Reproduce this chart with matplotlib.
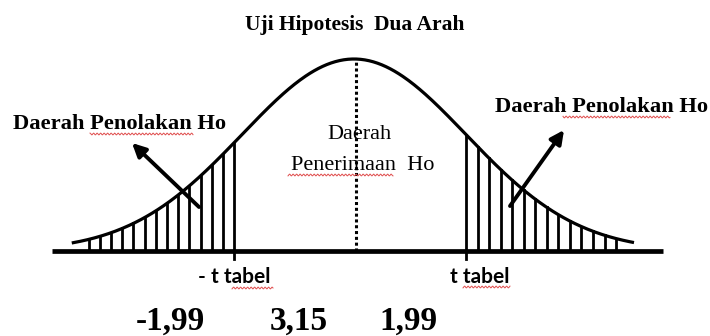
import numpy as np
import matplotlib
matplotlib.use("Agg")
import matplotlib.pyplot as plt

# schematic values (z units: 1 = one standard deviation of the drawn curve)
crit_left = -1.07      # - t tabel
crit_right = 1.00      # t tabel
tail_left = -2.52
tail_right = 2.50
n_hatch = 14           # vertical hatch lines on each side incl. the critical line

value_labels = ["-1,99", "3,15", "1,99"]
value_xpos = [170, 299, 408]   # pixel centres of the numbers

W, H = 710, 336
fig = plt.figure(figsize=(W / 100, H / 100), dpi=100)
ax = fig.add_axes([0, 0, 1, 1])
# map: z=0 -> 354 px, 1 z -> 112 px ; y=0 -> baseline (251 px), y=1 -> peak (59 px)
cx, sx, base, hpk = 354, 112, 251, 192
ax.set_xlim(-cx / sx, (W - cx) / sx)
ax.set_ylim((base - H) / hpk, base / hpk)
ax.axis("off")


def pdf(z):
    return np.exp(-0.5 * z ** 2)


# curve
z = np.linspace(tail_left, tail_right, 400)
ax.plot(z, pdf(z), color="black", lw=2.3, solid_capstyle="butt")

# baseline
ax.plot([(52 - cx) / sx, (663 - cx) / sx], [0, 0], color="black", lw=3.4,
        solid_capstyle="butt")

# hatch lines in the rejection regions
for zz in np.linspace(tail_left + 0.15, crit_left, n_hatch):
    ax.plot([zz, zz], [0, pdf(zz)], color="black", lw=2.0)
for zz in np.linspace(crit_right, tail_right - 0.16, n_hatch):
    ax.plot([zz, zz], [0, pdf(zz)], color="black", lw=2.0)
# small ticks below baseline at critical values
for zz in [crit_left, crit_right]:
    ax.plot([zz, zz], [0, -0.04], color="black", lw=2.0)

# dotted centre line
ax.plot([0.02, 0.02], [0, 1], color="black", lw=2.2, linestyle=(0, (1.0, 0.9)))

# arrows
def pt(x, y):
    return ((x - cx) / sx, (base - y) / hpk)

ax.annotate("", xy=pt(132, 143), xytext=pt(199, 207),
            arrowprops=dict(arrowstyle="-|>", lw=2.8, color="black",
                            mutation_scale=20, shrinkA=0, shrinkB=0))
ax.annotate("", xy=pt(564, 130), xytext=pt(510, 206),
            arrowprops=dict(arrowstyle="-|>", lw=2.8, color="black",
                            mutation_scale=20, shrinkA=0, shrinkB=0))


# text helpers (pixel coordinates)
def ftext(x, y, s, **kw):
    fig.text(x / W, 1 - y / H, s, va="baseline", **kw)


def squiggle(x0, x1, y):
    xs = np.linspace(x0, x1, int((x1 - x0) * 2))
    ys = y + 0.9 * np.sin(xs * 2 * np.pi / 3.5)
    ax.plot((xs - cx) / sx, (base - ys) / hpk, color="#e05050", lw=0.7)


serif = "Liberation Serif"
ftext(355, 30, "Uji Hipotesis  Dua Arah", ha="center", fontsize=15.5,
      fontweight="bold", family=serif)
ftext(13, 129, "Daerah Penolakan Ho", ha="left", fontsize=16.2,
      fontweight="bold", family=serif)
ftext(495, 112, "Daerah Penolakan Ho", ha="left", fontsize=16.2,
      fontweight="bold", family=serif)
ftext(359, 139, "Daerah", ha="center", fontsize=16, family=serif)
ftext(363, 170, "Penerimaan  Ho", ha="center", fontsize=16, family=serif)
ftext(198, 283, "- t tabel", ha="left", fontsize=15, fontweight="bold",
      family="Lato")
ftext(450, 283, "t tabel", ha="left", fontsize=15, fontweight="bold",
      family="Lato")
for lab, xp in zip(value_labels, value_xpos):
    ftext(xp, 330, lab, ha="center", fontsize=24, fontweight="bold", family=serif)

squiggle(90, 193, 134)
squiggle(563, 670, 117)
squiggle(288, 393, 175)
squiggle(232, 273, 288)
squiggle(463, 510, 287)

fig.savefig("out.png", dpi=100, facecolor="white")
